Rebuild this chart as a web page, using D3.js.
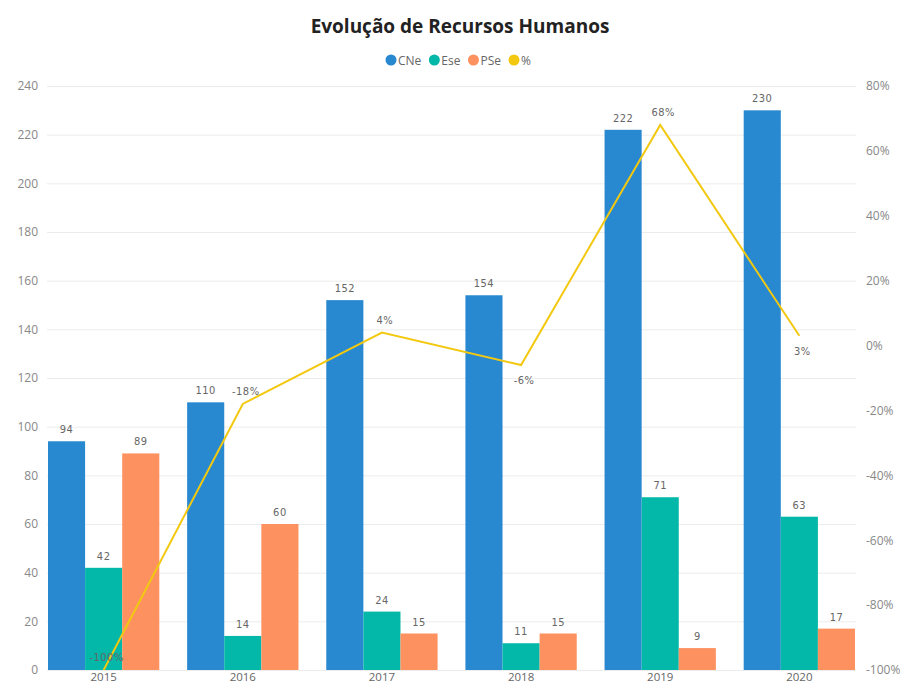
<!DOCTYPE html>
<html><head><meta charset="utf-8">
<script src="https://cdn.jsdelivr.net/npm/d3@7/dist/d3.min.js"></script>
<style>body{margin:0;background:#fff;}svg{display:block;}</style>
</head><body>
<script>
const years = ["2015","2016","2017","2018","2019","2020"];
const seriesNames = ["CNe","Ese","PSe"];
const CNe = [94,110,152,154,222,230];
const Ese = [42,14,24,11,71,63];
const PSe = [89,60,15,15,9,17];
const pct = [-100,-18,4,-6,68,3];
const pctLabelPos = ["above","above","above","below","above","below"];
const leftTicks = [0,20,40,60,80,100,120,140,160,180,200,220,240];
const rightTicks = [-100,-80,-60,-40,-20,0,20,40,60,80];
const colors = {CNe:"#2888D0", Ese:"#03B8A8", PSe:"#FD9160", "%":"#F2C811"};

(function(){
const W=900,H=686;
const svg=d3.select("body").append("svg").attr("width",W).attr("height",H);
const pTop=86,pBottom=670,pLeft=48,pRight=855;

const x=d3.scaleBand().domain(years).range([pLeft,pRight]).paddingInner(0.2).paddingOuter(0);
const xs=d3.scaleBand().domain(seriesNames).range([0,x.bandwidth()]);
const y=d3.scaleLinear().domain([0,240]).range([pBottom,pTop]);
const y2=d3.scaleLinear().domain([-100,80]).range([pBottom,pTop]);

const font="'Open Sans', 'Noto Sans', sans-serif";
const lblFont="'DejaVu Sans Condensed','Noto Sans', sans-serif";

// gridlines
svg.append("g").selectAll("line").data(leftTicks).join("line")
  .attr("x1",pLeft-1).attr("x2",pRight+1).attr("y1",d=>y(d)+0.5).attr("y2",d=>y(d)+0.5)
  .attr("stroke","#ececec").attr("stroke-width",1);

// left axis
const ya=svg.append("g").attr("transform",`translate(${pLeft-10},0)`)
  .call(d3.axisLeft(y).tickValues(leftTicks).tickSize(0).tickPadding(0));
ya.select(".domain").remove();
ya.selectAll("text").attr("font-family",font).attr("font-size",12).attr("fill","#888");

// right axis
const yb=svg.append("g").attr("transform",`translate(${pRight+11},0)`)
  .call(d3.axisRight(y2).tickValues(rightTicks).tickSize(0).tickPadding(0).tickFormat(d=>d+"%"));
yb.select(".domain").remove();
yb.selectAll("text").attr("font-family",font).attr("font-size",12).attr("fill","#888");

// x axis
const xa=svg.append("g").attr("transform",`translate(0,${pBottom})`)
  .call(d3.axisBottom(x).tickSize(0).tickPadding(3));
xa.select(".domain").remove();
xa.selectAll("text").attr("font-family",font).attr("font-size",11.5).attr("fill","#666");

// bars
const data={CNe,Ese,PSe};
seriesNames.forEach(s=>{
  const g=svg.append("g");
  g.selectAll("rect").data(years).join("rect")
    .attr("x",(d)=>x(d)+xs(s)).attr("width",xs.bandwidth())
    .attr("y",(d,i)=>y(data[s][i])).attr("height",(d,i)=>pBottom-y(data[s][i]))
    .attr("fill",colors[s]);
  g.selectAll("text").data(years).join("text")
    .attr("x",(d)=>x(d)+xs(s)+xs.bandwidth()/2)
    .attr("y",(d,i)=>y(data[s][i])-8)
    .attr("text-anchor","middle").attr("font-family",lblFont).attr("font-size",11)
    .attr("letter-spacing","0.5px").attr("fill","#666")
    .text((d,i)=>data[s][i]);
});

// line
const line=d3.line().x((d,i)=>x(years[i])+x.bandwidth()/2).y(d=>y2(d));
svg.append("path").datum(pct).attr("d",line).attr("fill","none")
  .attr("stroke",colors["%"]).attr("stroke-width",2);
svg.append("g").selectAll("text").data(pct).join("text")
  .attr("x",(d,i)=>x(years[i])+x.bandwidth()/2+3)
  .attr("y",(d,i)=>pctLabelPos[i]==="above"?y2(d)-9:y2(d)+19)
  .attr("text-anchor","middle").attr("font-family",lblFont).attr("font-size",11)
  .attr("letter-spacing","0.5px").attr("fill","#666")
  .text(d=>d+"%");

// title
svg.append("text").attr("x",460).attr("y",33).attr("text-anchor","middle")
  .attr("font-family","'Open Sans', 'Noto Sans', sans-serif").attr("font-weight","bold")
  .attr("font-size",19).attr("fill","#222").text("Evolução de Recursos Humanos");

// legend
const legItems=["CNe","Ese","PSe","%"];
const leg=svg.append("g");
let lx=385;
legItems.forEach(k=>{
  leg.append("circle").attr("cx",lx+6).attr("cy",60).attr("r",5.5).attr("fill",colors[k]);
  const t=leg.append("text").attr("x",lx+13).attr("y",64.5).attr("font-family",font)
    .attr("font-size",12).attr("fill","#666").text(k);
  lx+=13+t.node().getComputedTextLength()+7;
});
})();
</script>
</body></html>
